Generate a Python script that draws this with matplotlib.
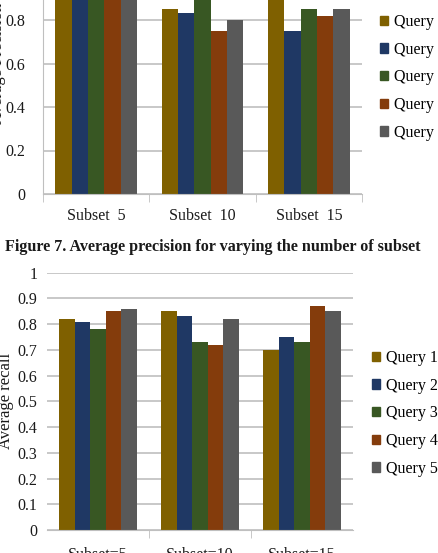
import numpy as np
import matplotlib.pyplot as plt
from matplotlib.patches import Patch

# data
queries = ["Query 1", "Query 2", "Query 3", "Query 4", "Query 5"]
prec_cats = ["Subset  5", "Subset  10", "Subset  15"]
recall_cats = ["Subset=5", "Subset=10", "Subset=15"]

# average precision (bars above ~0.9 are cut off in the source)
prec_q1 = [0.95, 0.85, 0.93]
prec_q2 = [0.94, 0.83, 0.75]
prec_q3 = [0.96, 0.95, 0.85]
prec_q4 = [0.93, 0.75, 0.82]
prec_q5 = [0.95, 0.80, 0.85]

# average recall
rec_q1 = [0.82, 0.85, 0.70]
rec_q2 = [0.81, 0.83, 0.75]
rec_q3 = [0.78, 0.73, 0.73]
rec_q4 = [0.85, 0.72, 0.87]
rec_q5 = [0.86, 0.82, 0.85]

colors = ["#7F6000", "#1F3864", "#385723", "#843C0C", "#595959"]
grid_c = "#BFBFBF"
txt_c = "#1a1a1a"

plt.rcParams['font.family'] = ['Liberation Serif', 'DejaVu Serif']

W, H = 439, 553
fig = plt.figure(figsize=(W / 100, H / 100), dpi=100)


def box(l, t, r, b):
    return [l / W, (H - b) / H, (r - l) / W, (b - t) / H]


def bars(ax, series, cats, xpad):
    x = np.arange(len(cats))
    bw = 0.153
    for i, vals in enumerate(series):
        ax.bar(x + (i - 2) * bw, vals, bw, color=colors[i], zorder=3)
    ax.set_xlim(-0.5, len(cats) - 0.5)
    ax.set_xticks(x)
    ax.set_xticklabels(cats, fontsize=11.5, color=txt_c)
    ax.tick_params(axis='x', which='major', length=0, pad=xpad)
    ax.tick_params(axis='y', length=0, labelsize=11.5, labelcolor=txt_c)
    ax.grid(axis='y', color=grid_c, linewidth=1.2, zorder=0)
    for s in ['top', 'right', 'left']:
        ax.spines[s].set_visible(False)
    ax.spines['bottom'].set_color(grid_c)
    ax.spines['bottom'].set_zorder(4)
    ax.tick_params(axis='x', which='minor', length=6, color=grid_c)


def legend(ax, x, y):
    ax.legend(handles=[Patch(color=c, label=q) for c, q in zip(colors, queries)],
              loc='upper left', bbox_to_anchor=(x / W, 1 - y / H),
              bbox_transform=fig.transFigure, frameon=False, fontsize=11.5,
              handlelength=0.5, handleheight=0.5, handletextpad=0.35,
              labelspacing=0.73, borderpad=0, borderaxespad=0)


# top chart: average precision (cropped at the top)
ax1 = fig.add_axes(box(43, 194 - 217.5, 362, 194))
bars(ax1, [prec_q1, prec_q2, prec_q3, prec_q4, prec_q5], prec_cats, 10)
ax1.set_ylim(0, 1)
ax1.set_yticks([0, 0.2, 0.4, 0.6, 0.8, 1.0])
ax1.set_yticklabels(["0", "0.2", "0.4", "0.6", "0.8", "1"])
ax1.tick_params(axis='y', pad=13)
ax1.set_xticks([-0.5, 0.5, 1.5, 2.5], minor=True)
ax1.spines['left'].set_visible(True)
ax1.spines['left'].set_color(grid_c)
ax1.set_ylabel("Average Precision", fontsize=12, color=txt_c)
ax1.yaxis.set_label_coords(-0.116, 0.6)
legend(ax1, 380, 14)

fig.text(5 / W, 1 - 247 / H,
         "Figure 7. Average precision for varying the number of subset",
         fontsize=11.65, fontweight='bold', color=txt_c, va='center', ha='left')

# bottom chart: average recall
ax2 = fig.add_axes(box(47, 272.7, 353, 530))
bars(ax2, [rec_q1, rec_q2, rec_q3, rec_q4, rec_q5], recall_cats, 12)
ax2.set_ylim(0, 1)
ax2.set_yticks(np.arange(0, 1.01, 0.1))
ax2.set_yticklabels(["0", "0.1", "0.2", "0.3", "0.4", "0.5", "0.6", "0.7",
                     "0.8", "0.9", "1"])
ax2.tick_params(axis='y', pad=7)
ax2.set_xticks([0.5, 1.5], minor=True)
ax2.set_ylabel("Average recall", fontsize=12, color=txt_c)
ax2.yaxis.set_label_coords(-0.107, 0.5)
legend(ax2, 372, 350)

fig.savefig("out.png", dpi=100)
